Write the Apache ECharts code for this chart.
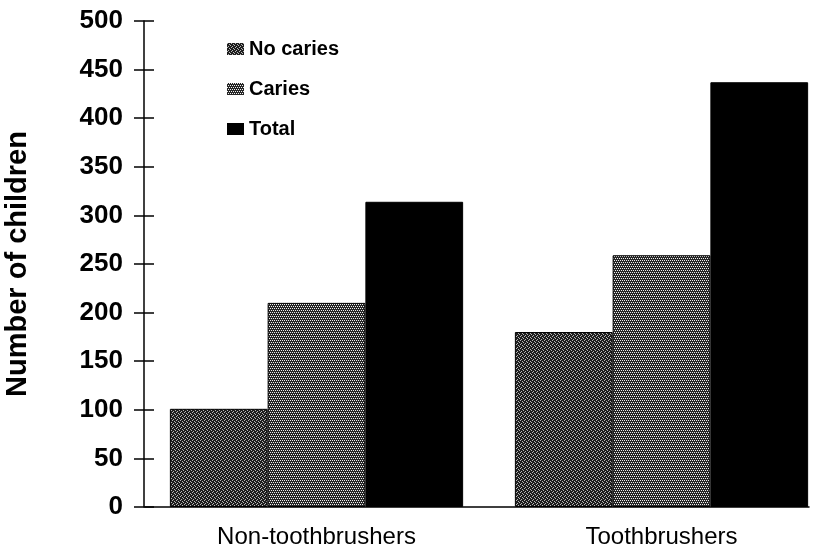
<!DOCTYPE html>
<html><head><meta charset="utf-8">
<script src="https://cdn.jsdelivr.net/npm/echarts@6/dist/echarts.min.js"></script>
<style>html,body{margin:0;padding:0;background:#fff}#c{width:824px;height:551px}</style>
</head><body><div id="c"></div>
<script>
const categories = ['Non-toothbrushers', 'Toothbrushers'];
const seriesNames = ['No caries', 'Caries', 'Total'];
const noCaries = [101, 180];
const caries = [210, 259];
const total = [314, 437];
const yTicks = { min: 0, max: 500, interval: 50 };

function pattern(bg, fg, pts, size) {
  const c = document.createElement('canvas');
  c.width = size; c.height = size;
  const g = c.getContext('2d');
  g.fillStyle = bg; g.fillRect(0, 0, size, size);
  g.fillStyle = fg;
  pts.forEach(p => g.fillRect(p[0], p[1], 1, 1));
  return { image: c, repeat: 'repeat' };
}
const patNo = pattern('#1e1e1e', '#b8b8b8', [[0,0],[2,1],[1,3],[3,2]], 4);
const patCa = pattern('#262626', '#f0f0f0', [[0,0],[2,0],[1,2],[3,2]], 4);

const chart = echarts.init(document.getElementById('c'));
const common = { type: 'bar', barGap: '0%', barCategoryGap: '15%', xAxisIndex: 0, yAxisIndex: 0,
  itemStyle: { borderColor: '#000', borderWidth: 1 } };
chart.setOption({
  animation: false,
  legend: {
    orient: 'vertical', left: 222, top: 34, itemGap: 20, itemWidth: 17, itemHeight: 12, itemTextGap: 3,
    icon: 'rect',
    data: seriesNames,
    textStyle: { fontFamily: 'Liberation Sans', fontSize: 20, fontWeight: 'bold', color: '#000' },
    itemStyle: { borderWidth: 0 }
  },
  grid: [
    { left: 144, width: 690, top: 21, bottom: 44, outerBoundsMode: 'none' },
    { left: 145, right: 15, top: 21, bottom: 44, outerBoundsMode: 'none' }
  ],
  xAxis: [
    { type: 'category', gridIndex: 0, data: categories,
      axisLine: { show: false }, axisTick: { show: false },
      axisLabel: { margin: 18, color: '#000', fontFamily: 'Liberation Sans', fontSize: 24 } },
    { type: 'value', gridIndex: 1, min: 0, max: 1, splitLine: { show: false },
      axisLine: { show: true, onZero: false, lineStyle: { color: '#000', width: 1.5 } },
      axisTick: { show: false }, axisLabel: { show: false } }
  ],
  yAxis: [
    { type: 'value', gridIndex: 0, min: yTicks.min, max: yTicks.max, interval: yTicks.interval,
      position: 'left', offset: 0,
      name: 'Number of children', nameLocation: 'middle', nameGap: 112, nameRotate: 90,
      nameTextStyle: { fontFamily: 'Liberation Sans', fontSize: 29, fontWeight: 'bold', color: '#000' },
      splitLine: { show: false },
      axisLine: { show: true, lineStyle: { color: '#000', width: 1.5 } },
      axisTick: { show: true, length: 10, lineStyle: { color: '#000', width: 1.5 } },
      axisLabel: { margin: 21, color: '#000', fontFamily: 'Liberation Sans', fontSize: 26, fontWeight: 'bold' } },
    { type: 'value', gridIndex: 0, min: yTicks.min, max: yTicks.max, interval: yTicks.interval,
      position: 'left', offset: 0, splitLine: { show: false },
      axisLine: { show: false },
      axisTick: { show: true, inside: true, length: 10, lineStyle: { color: '#000', width: 1.5 } },
      axisLabel: { show: false } },
    { type: 'value', gridIndex: 1, show: false, min: 0, max: 1 }
  ],
  series: [
    Object.assign({}, common, { name: seriesNames[0], data: noCaries, itemStyle: Object.assign({}, common.itemStyle, { color: patNo }) }),
    Object.assign({}, common, { name: seriesNames[1], data: caries, itemStyle: Object.assign({}, common.itemStyle, { color: patCa }) }),
    Object.assign({}, common, { name: seriesNames[2], data: total, itemStyle: Object.assign({}, common.itemStyle, { color: '#000' }) })
  ]
});
</script></body></html>
